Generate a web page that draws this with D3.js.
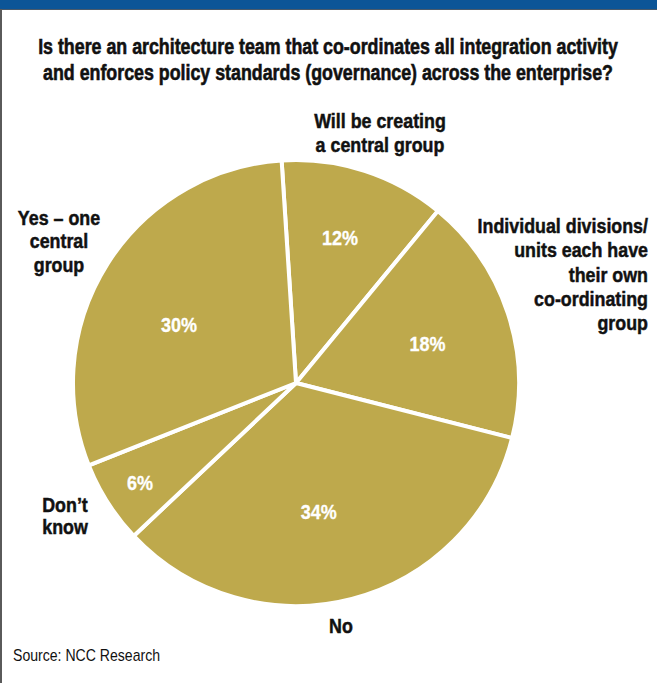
<!DOCTYPE html>
<html>
<head>
<meta charset="utf-8">
<script src="https://cdn.jsdelivr.net/npm/d3@7"></script>
<style>
  body { margin: 0; background: #fff; }
  svg { display: block; }
  text { font-family: "Liberation Sans", Arial, sans-serif; }
</style>
</head>
<body>
<div id="chart"></div>
<script>
// chart data
const categories = ["Will be creating a central group", "Individual divisions/ units each have their own co-ordinating group", "No", "Don\u2019t know", "Yes \u2013 one central group"];
const values = [12, 18, 34, 6, 30];
const valueLabels = ["12%", "18%", "34%", "6%", "30%"];
const titleLines = ["Is there an architecture team that co-ordinates all integration activity", "and enforces policy standards (governance) across the enterprise?"];
const source = "Source: NCC Research";

// category label lines and placement (layout only)
const labelLines = [
  ["Will be creating", "a central group"],
  ["Individual divisions/", "units each have", "their own", "co-ordinating", "group"],
  ["No"],
  ["Don\u2019t", "know"],
  ["Yes \u2013 one", "central", "group"]
];
const labelLayout = [
  { x: 380, y: 128, anchor: "middle", lh: 24 },
  { x: 648, y: 233, anchor: "end", lh: 24.3 },
  { x: 341, y: 633, anchor: "middle", lh: 24 },
  { x: 65, y: 512, anchor: "middle", lh: 22 },
  { x: 59, y: 225, anchor: "middle", lh: 23.5 }
];
// percentage label radius (share of pie radius) and angle nudge in degrees
const pctLayout = [
  { r: 0.68, da: -1 },
  { r: 0.615, da: 1.5 },
  { r: 0.585, da: 4.5 },
  { r: 0.83, da: 0 },
  { r: 0.585, da: -6 }
];

let width = 657,
    height = 683,
    radius = 223,
    cx = 296,
    cy = 383

const condensed = 0.85;

const svg = d3.select('#chart')
  .append('svg')
  .attr('xmlns', 'http://www.w3.org/2000/svg')
  .attr('width', width)
  .attr('height', height);

// frame: blue band on top, grey rule down the left
svg.append('rect').attr('x', 0).attr('y', 0).attr('width', width).attr('height', 9).attr('fill', '#0c5597');
svg.append('rect').attr('x', 0).attr('y', 9).attr('width', width).attr('height', 1).attr('fill', '#4a5a6a');
svg.append('rect').attr('x', 0).attr('y', 9).attr('width', 2).attr('height', height - 9).attr('fill', '#5a5a5a');

// title, squeezed to mimic a condensed face
svg.append('g')
  .selectAll('text')
  .data(titleLines)
  .enter().append('text')
  .attr('transform', function(d, i) { return 'translate(328,' + (54 + i * 25.5) + ') scale(0.81,1)' })
  .attr('text-anchor', 'middle')
  .attr('font-size', 22)
  .attr('font-weight', 'bold')
  .attr('fill', '#111')
  .attr('stroke', '#111')
  .attr('stroke-width', 0.6)
  .text(function(d) { return d });

const g = svg.append('g')
  .attr('transform', 'translate(' + cx + ',' + cy + ')');

const startA = -3.7 * Math.PI / 180;
const pie = d3.pie()
  .sort(null)
  .value(function(d) { return d })
  .startAngle(startA)
  .endAngle(startA + 2 * Math.PI);
const arcs = pie(values);

const arc = d3.arc().innerRadius(0).outerRadius(radius);

g.selectAll('path')
  .data(arcs)
  .enter().append('path')
  .attr('d', arc)
  .attr('fill', '#bea94c')
  .attr('stroke', '#fff')
  .attr('stroke-width', 4)
  .attr('stroke-linejoin', 'round');

g.selectAll('text.pct')
  .data(arcs)
  .enter().append('text')
  .attr('class', 'pct')
  .attr('transform', function(d, i) {
    let a = (d.startAngle + d.endAngle) / 2 + pctLayout[i].da * Math.PI / 180;
    let r = radius * pctLayout[i].r;
    return 'translate(' + (r * Math.sin(a)) + ',' + (-r * Math.cos(a)) + ') scale(0.9,1)';
  })
  .attr('text-anchor', 'middle')
  .attr('dy', '0.36em')
  .attr('font-size', 20)
  .attr('font-weight', 'bold')
  .attr('fill', '#fff')
  .attr('stroke', '#fff')
  .attr('stroke-width', 0.3)
  .text(function(d, i) { return valueLabels[i] });

// outer category labels
const lab = svg.append('g')
  .selectAll('text')
  .data(categories)
  .enter().append('text')
  .attr('transform', function(d, i) { return 'translate(' + labelLayout[i].x + ',' + labelLayout[i].y + ') scale(' + condensed + ',1)' })
  .attr('text-anchor', function(d, i) { return labelLayout[i].anchor })
  .attr('font-size', 21)
  .attr('font-weight', 'bold')
  .attr('fill', '#111')
  .attr('stroke', '#111')
  .attr('stroke-width', 0.5);

lab.each(function(d, i) {
  const t = d3.select(this);
  labelLines[i].forEach(function(line, j) {
    t.append('tspan')
      .attr('x', 0)
      .attr('dy', j === 0 ? 0 : labelLayout[i].lh)
      .text(line);
  });
});

svg.append('text')
  .attr('transform', 'translate(13,661) scale(0.88,1)')
  .attr('font-size', 16)
  .attr('fill', '#111')
  .text(source);
</script>
</body>
</html>
